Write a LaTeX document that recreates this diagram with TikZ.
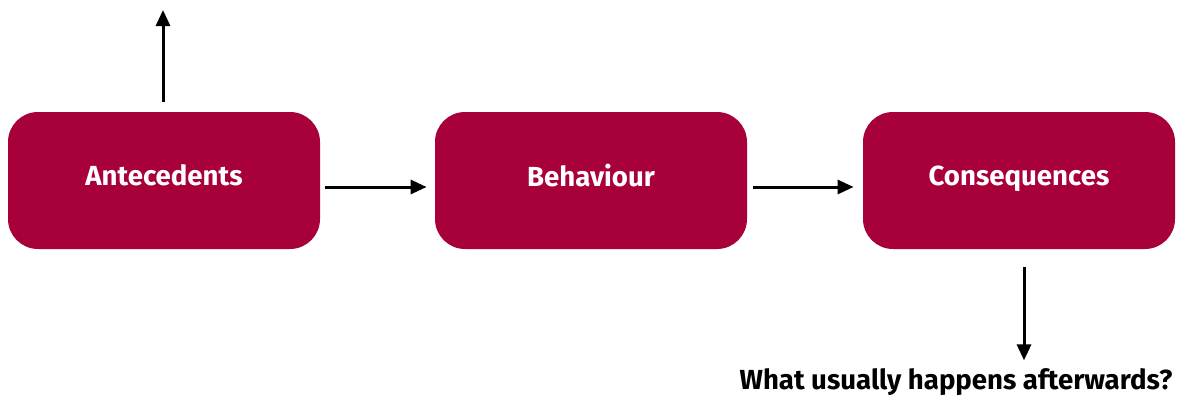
\documentclass[tikz,border=0pt]{standalone}
\usepackage{fontspec}
\setmainfont{Fira Sans}
\usetikzlibrary{arrows.meta,positioning}
\def\myboxw{312}
\def\myboxh{137}
\definecolor{myred}{RGB}{168,0,59}

\begin{document}
\begin{tikzpicture}[x=0.5pt,y=-0.5pt,
  abcbox/.style = {fill=myred, text=white, rounded corners=15pt, inner sep=0pt,
    minimum width=\myboxw*0.5pt, minimum height=\myboxh*0.5pt,
    font=\fontsize{13.8}{16}\selectfont\bfseries},
  arr/.style = {line width=1.5pt, -{Triangle[length=8pt,width=7pt]}}]
\useasboundingbox (0,0) rectangle (1178,396);
%\tikzstyle{every node} = [font = \small]
\node[abcbox] (ante) at (164,180.5) {\raisebox{5pt}{Antecedents}};
\node[abcbox] (behav) at (591,180.5) {\raisebox{5pt}{Behaviour}};
\node[abcbox] (conseq) at (1019,180.5) {\raisebox{5pt}{Consequences}};
\node[font=\fontsize{13.8}{16}\selectfont\bfseries, inner sep=0pt] (after) at (956,382) {What usually happens afterwards?};

\coordinate (upend) at (163,10);
\draw[arr] ([shift={(-1,-10)}]ante.north) -- (upend); %antecedents up
\draw[arr] ([shift={(5,6.5)}]ante.east) -- ([shift={(-8,6.5)}]behav.west); %ante to behav
\draw[arr] ([shift={(6,6.5)}]behav.east) -- ([shift={(-9,6.5)}]conseq.west); %behav to conseq
\draw[arr] ([shift={(5,18)}]conseq.south) -- ([shift={(5,111)}]conseq.south); %conseq down
\end{tikzpicture}
\end{document}
